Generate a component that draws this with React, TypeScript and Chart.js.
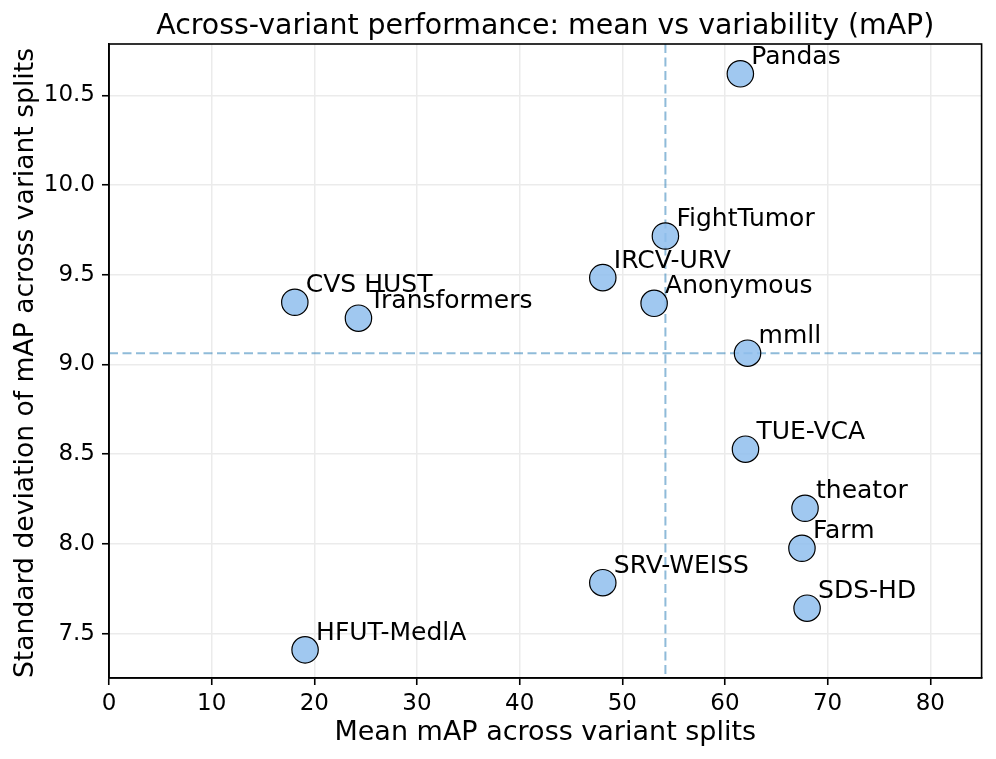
import React, { useEffect, useRef } from "react";
import { Chart, registerables } from "chart.js";

Chart.register(...registerables);

const TEAMS = [
  "Pandas",
  "FightTumor",
  "IRCV-URV",
  "Anonymous",
  "CVS HUST",
  "Transformers",
  "mmll",
  "TUE-VCA",
  "theator",
  "Farm",
  "SDS-HD",
  "SRV-WEISS",
  "HFUT-MedlA",
];
const MEAN_MAP = [61.5, 54.2, 48.1, 53.1, 18.1, 24.3, 62.2, 62.0, 67.8, 67.5, 68.0, 48.1, 19.1];
const STD_MAP = [10.62, 9.716, 9.484, 9.341, 9.347, 9.258, 9.063, 8.528, 8.199, 7.976, 7.642, 7.784, 7.41];
const X_TICKS = [0, 10, 20, 30, 40, 50, 60, 70, 80];
const Y_TICKS = [7.5, 8.0, 8.5, 9.0, 9.5, 10.0, 10.5];

const TITLE = "Across-variant performance: mean vs variability (mAP)";
const X_TITLE = "Mean mAP across variant splits";
const Y_TITLE = "Standard deviation of mAP across variant splits";

const FONT = "'DejaVu Sans', sans-serif";

function median(arr: number[]): number {
  const s = [...arr].sort((a, b) => a - b);
  const m = Math.floor(s.length / 2);
  return s.length % 2 ? s[m] : (s[m - 1] + s[m]) / 2;
}

export default function App() {
  const ref = useRef<HTMLCanvasElement | null>(null);

  useEffect(() => {
    const canvas = ref.current;
    if (!canvas) return;
    const medX = median(MEAN_MAP);
    const medY = median(STD_MAP);

    const decor = {
      id: "decor",
      beforeDatasetsDraw(chart: any) {
        const { ctx, chartArea, scales } = chart;
        const xs = scales.x.getPixelForValue(medX);
        const ys = scales.y.getPixelForValue(medY);
        ctx.save();
        ctx.strokeStyle = "rgba(31,119,180,0.5)";
        ctx.lineWidth = 2;
        ctx.setLineDash([9, 4.5]);
        ctx.beginPath();
        ctx.moveTo(xs, chartArea.top);
        ctx.lineTo(xs, chartArea.bottom);
        ctx.moveTo(chartArea.left, ys);
        ctx.lineTo(chartArea.right, ys);
        ctx.stroke();
        ctx.restore();
      },
      afterDatasetsDraw(chart: any) {
        const { ctx, scales } = chart;
        ctx.save();
        ctx.fillStyle = "#000";
        ctx.font = `25px ${FONT}`;
        ctx.textAlign = "left";
        ctx.textBaseline = "alphabetic";
        TEAMS.forEach((t, i) => {
          const px = scales.x.getPixelForValue(MEAN_MAP[i]);
          const py = scales.y.getPixelForValue(STD_MAP[i]);
          ctx.fillText(t, px + 11, py - 10);
        });
        ctx.restore();
      },
      afterDraw(chart: any) {
        const { ctx, chartArea } = chart;
        ctx.save();
        ctx.strokeStyle = "#000";
        ctx.lineWidth = 1.6;
        ctx.strokeRect(
          chartArea.left,
          chartArea.top,
          chartArea.right - chartArea.left,
          chartArea.bottom - chartArea.top
        );
        ctx.fillStyle = "#000";
        ctx.textAlign = "center";
        ctx.textBaseline = "alphabetic";
        const cx = (chartArea.left + chartArea.right) / 2;
        ctx.font = `28.4px ${FONT}`;
        ctx.fillText(TITLE, cx, 34);
        ctx.font = `27px ${FONT}`;
        ctx.fillText(X_TITLE, cx, 740);
        const cy = (chartArea.top + chartArea.bottom) / 2;
        ctx.font = `26.6px ${FONT}`;
        ctx.translate(33, cy + 2);
        ctx.rotate(-Math.PI / 2);
        ctx.fillText(Y_TITLE, 0, 0);
        ctx.restore();
      },
    };

    const chart = new Chart(canvas, {
      type: "scatter",
      data: {
        datasets: [
          {
            data: MEAN_MAP.map((x, i) => ({ x, y: STD_MAP[i] })),
            pointRadius: 13.2,
            pointHoverRadius: 13.2,
            backgroundColor: "rgba(143,190,237,0.85)",
            borderColor: "#000",
            borderWidth: 1.2,
          },
        ],
      },
      options: {
        animation: false,
        responsive: false,
        events: [],
        layout: { padding: { top: 44, right: 13, left: 0, bottom: 0 } },
        plugins: {
          legend: { display: false },
          tooltip: { enabled: false },
          title: { display: false },
        },
        scales: {
          x: {
            type: "linear",
            min: 0,
            max: 85,
            afterFit: (s: any) => {
              s.height = 81;
            },
            afterBuildTicks: (s: any) => {
              s.ticks = X_TICKS.map((v) => ({ value: v }));
            },
            ticks: {
              color: "#000",
              font: { family: FONT, size: 23 },
              padding: 5,
              maxRotation: 0,
              callback: (v: any) => String(v),
            },
            grid: {
              color: "#ebebeb",
              lineWidth: 1.5,
              tickColor: "#000",
              tickLength: 7,
              tickWidth: 1.6,
            },
            border: { color: "#000", width: 1.6 },
          },
          y: {
            type: "linear",
            min: 7.253,
            max: 10.786,
            afterFit: (s: any) => {
              s.width = 109;
            },
            afterBuildTicks: (s: any) => {
              s.ticks = Y_TICKS.map((v) => ({ value: v }));
            },
            ticks: {
              color: "#000",
              font: { family: FONT, size: 23 },
              padding: 7,
              callback: (v: any) => Number(v).toFixed(1),
            },
            grid: {
              color: "#ebebeb",
              lineWidth: 1.5,
              tickColor: "#000",
              tickLength: 7,
              tickWidth: 1.6,
            },
            border: { color: "#000", width: 1.6 },
          },
        },
      },
      plugins: [decor],
    });
    return () => chart.destroy();
  }, []);

  return (
    <div style={{ position: "fixed", left: 0, top: 0, width: 996, height: 759, background: "#fff" }}>
      <canvas ref={ref} width={996} height={759} style={{ width: 996, height: 759, display: "block" }} />
    </div>
  );
}
